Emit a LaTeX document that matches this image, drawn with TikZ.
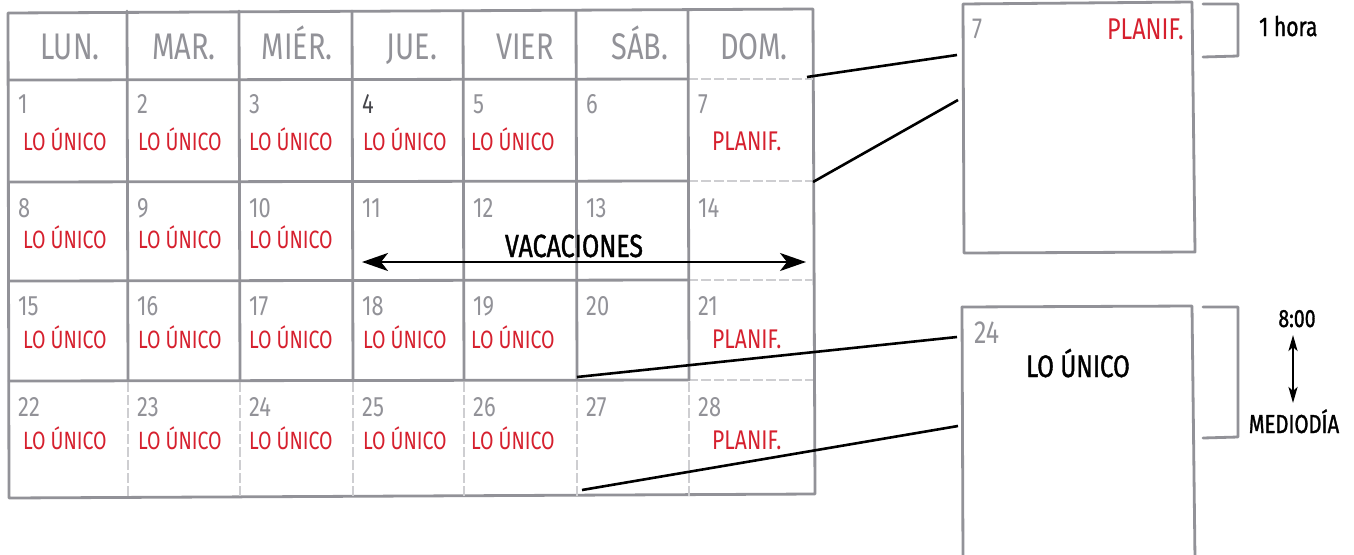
\documentclass[tikz,border=0pt]{standalone}
\usepackage{fontspec}
\setmainfont{Fira Sans}[FakeStretch=0.78]
\newfontfamily\handbold{Fira Sans}[FakeStretch=0.78, FakeBold=1.2]
\usetikzlibrary{arrows.meta}
\definecolor{pgray}{RGB}{146,146,152}
\definecolor{pred}{RGB}{214,32,46}
\definecolor{dgray}{RGB}{70,70,75}
\tikzset{
  grid/.style={draw=pgray, line width=2.8pt, line cap=round, line join=round},
  faint/.style={draw=pgray!45, line width=1.8pt, dash pattern=on 10pt off 3pt},
  conn/.style={draw=black, line width=2.6pt},
  hdr/.style={text=pgray, inner sep=0pt, anchor=base, font=\fontsize{37}{39}\selectfont},
  num/.style={text=pgray, inner sep=0pt, anchor=base west, font=\fontsize{28}{30}\selectfont},
  redt/.style={text=pred, inner sep=0pt, anchor=base west, font=\fontsize{25}{27}\selectfont},
  blk/.style={text=black, inner sep=0pt, anchor=base},
  dbl/.style={line width=2.5pt, {Stealth[length=26pt,width=18pt,inset=7pt]}-{Stealth[length=26pt,width=18pt,inset=7pt]}},
  dblsmall/.style={line width=2.3pt, {Stealth[length=16pt,width=9pt,inset=4pt]}-{Stealth[length=16pt,width=9pt,inset=4pt]}}
}
\begin{document}
\begin{tikzpicture}[x=1pt,y=-1pt]
\path[use as bounding box, clip] (0,0) rectangle (1354,554);
\fill[white] (0,0) rectangle (1354,554);

% calendar frame
\path[grid] (8,13) -- (813,9) -- (815,494) -- (9,498) -- cycle;
% horizontal lines
\foreach \y in {80,182,281,381} {
  \path[grid] (9,\y) -- (688,\y-1);
  \path[faint] (688,\y-1) -- (813,\y-1);
}
% vertical lines
\foreach \x in {127,239,352,463,576,688} {
  \path[grid] (\x,11) -- (\x+1,380);
  \path[faint] (\x+1,382) -- (\x+1,496);
}

% header
\node[hdr] (h1) at (70,59) {LUN.};
\node[hdr] (h2) at (184,59) {MAR.};
\node[hdr] (h3) at (297,59) {MIÉR.};
\node[hdr] (h4) at (412,59) {JUE.};
\node[hdr] (h5) at (525,59) {VIER};
\node[hdr] (h6) at (640,59) {SÁB.};
\node[hdr] (h7) at (754,59) {DOM.};

% day numbers
\foreach \n [count=\i from 0] in {1,...,28} {
  \pgfmathtruncatemacro{\c}{mod(\i,7)}
  \pgfmathtruncatemacro{\r}{int(\i/7)}
  \pgfmathsetmacro{\xx}{{8,127,239,352,463,576,688}[\c]+10}
  \pgfmathsetmacro{\yy}{{113,217,315,416}[\r]}
  \ifnum\n=4
    \node[num, text=dgray] (n\n) at (\xx,\yy) {\n};
  \else
    \node[num] (n\n) at (\xx,\yy) {\n};
  \fi
}

% red entries
\foreach \c/\r in {0/0,1/0,2/0,3/0,4/0,0/1,1/1,2/1,0/2,1/2,2/2,3/2,4/2,0/3,1/3,2/3,3/3,4/3} {
  \pgfmathsetmacro{\xx}{{23,138,249,363,471}[\c]}
  \pgfmathsetmacro{\yy}{{150,248,348,449}[\r]}
  \node[redt] (t\c-\r) at (\xx,\yy) {LO ÚNICO};
}
\foreach \r in {0,2,3} {
  \pgfmathsetmacro{\yy}{{150,248,348,449}[\r]}
  \node[redt, font=\fontsize{27}{29}\selectfont] (p\r) at (712,\yy) {PLANIF.};
}

% vacaciones
\node[blk, font=\handbold\fontsize{32}{34}\selectfont] (vac) at (574,257) {VACACIONES};
\coordinate (va) at (362,262);
\coordinate (vb) at (806,262);
\draw[dbl] (va) -- (vb);

% box 1
\path[grid] (963,4) -- (1192,2) -- (1195,252) -- (964,253) -- cycle;
\path[grid] (1203,4) -- (1238,4) -- (1238,56) -- (1203,57);
\node[num, font=\fontsize{29}{31}\selectfont] (b1n) at (972,38) {7};
\node[redt, anchor=base east, font=\fontsize{30}{32}\selectfont] (b1p) at (1184,39) {PLANIF.};
\node[blk, anchor=base west, font=\handbold\fontsize{27}{29}\selectfont] (hora) at (1259,36) {1 hora};

% box 2
\path[grid] (962,307) -- (1192,306) -- (1195,560);
\path[grid] (962,307) -- (963,560);
\path[grid] (1203,307) -- (1238,307) -- (1238,437) -- (1203,438);
\node[num, font=\fontsize{32}{34}\selectfont] (b2n) at (974,343) {24};
\node[blk, font=\handbold\fontsize{31}{33}\selectfont] (b2t) at (1078,377) {LO ÚNICO};
\node[blk, font=\handbold\fontsize{25}{27}\selectfont] (t800) at (1297,327) {8:00};
\node[blk, font=\handbold\fontsize{26}{28}\selectfont] (medio) at (1294,433) {MEDIODÍA};
\coordinate (ma) at (1293,335);
\coordinate (mb) at (1293,403);
\draw[dblsmall] (ma) -- (mb);

% connectors
\coordinate (c1a) at (807,77);  \coordinate (c1b) at (957,55);
\coordinate (c2a) at (813,182); \coordinate (c2b) at (958,100);
\coordinate (c3a) at (577,377); \coordinate (c3b) at (957,337);
\coordinate (c4a) at (582,490); \coordinate (c4b) at (958,426);
\draw[conn] (c1a) -- (c1b);
\draw[conn] (c2a) -- (c2b);
\draw[conn] (c3a) -- (c3b);
\draw[conn] (c4a) -- (c4b);
\end{tikzpicture}
\end{document}
